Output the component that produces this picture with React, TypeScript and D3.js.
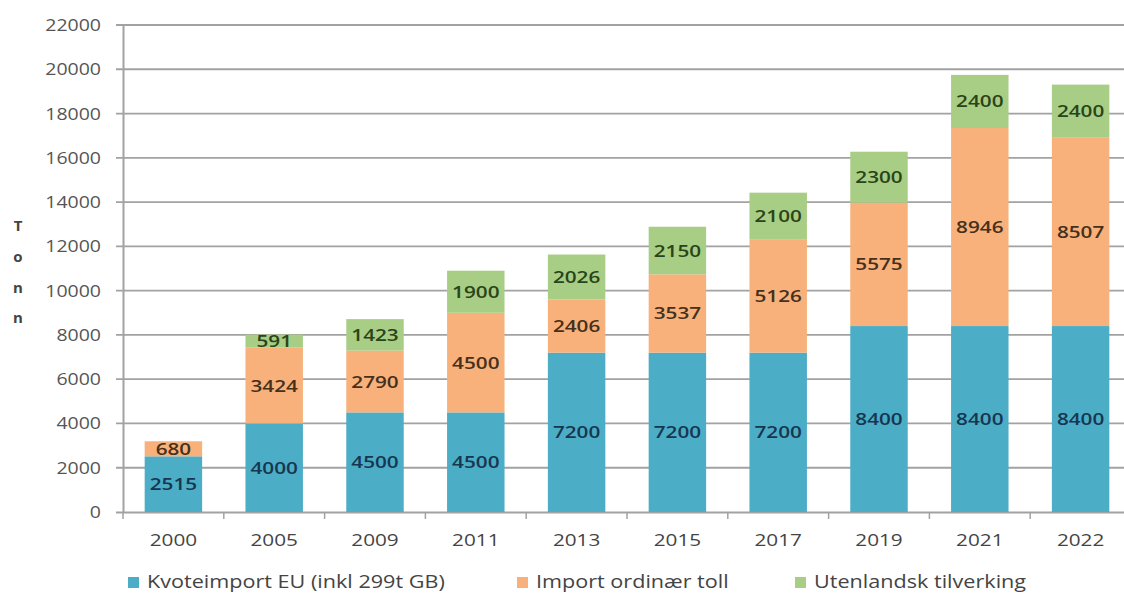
import React from 'react';
import * as d3 from 'd3';

const years = ['2000', '2005', '2009', '2011', '2013', '2015', '2017', '2019', '2021', '2022'];
const kvoteimport = [2515, 4000, 4500, 4500, 7200, 7200, 7200, 8400, 8400, 8400];
const importToll = [680, 3424, 2790, 4500, 2406, 3537, 5126, 5575, 8946, 8507];
const utenlandsk = [0, 591, 1423, 1900, 2026, 2150, 2100, 2300, 2400, 2400];
const yTicks = [0, 2000, 4000, 6000, 8000, 10000, 12000, 14000, 16000, 18000, 20000, 22000];

const seriesNames = ['Kvoteimport EU (inkl 299t GB)', 'Import ordinær toll', 'Utenlandsk tilverking'];
const seriesColors = ['#4badc6', '#f8b17b', '#a8cd84'];
const labelColors = ['#173650', '#45301c', '#2a4419'];
const axisLetters = ['T', 'o', 'n', 'n'];

const W = 1124;
const H = 595;
const FONT = '"Open Sans", "Liberation Sans", sans-serif';
const SX = 1.22; // reference text looks horizontally stretched

const App: React.FC = () => {
  const x = d3.scaleBand<string>().domain(years).range([123, 1131]).paddingInner(0.43).paddingOuter(0.215);
  const y = d3.scaleLinear().domain([0, 22000]).range([512, 25]);

  const rows = years.map((yr, i) => ({ year: yr, k: kvoteimport[i], t: importToll[i], u: utenlandsk[i] }));
  const stack = d3.stack<any>().keys(['k', 't', 'u'])(rows);

  const legendX = [128, 517, 795];

  return (
    <div style={{ position: 'fixed', left: 0, top: 0 }}>
      <svg width={W} height={H} style={{ display: 'block', background: '#fff', fontFamily: FONT }}>
        {/* gridlines + y ticks */}
        {yTicks.map(t => (
          <g key={t}>
            {t > 0 && <line x1={116} x2={W} y1={y(t)} y2={y(t)} stroke="#a2a2a2" strokeWidth={1.8} />}
            <text transform={`translate(101,${y(t) + 6}) scale(${SX},1)`} textAnchor="end" fontSize={16} fill="#555">
              {t}
            </text>
          </g>
        ))}
        {/* axes */}
        <line x1={123.5} x2={123.5} y1={25} y2={513} stroke="#a2a2a2" strokeWidth={2} />
        <line x1={116} x2={W} y1={512.5} y2={512.5} stroke="#a2a2a2" strokeWidth={2} />
        {years.map(yr => (
          <line key={'t' + yr} x1={(x(yr) as number) - x.step() * 0.215} x2={(x(yr) as number) - x.step() * 0.215} y1={512} y2={519} stroke="#a2a2a2" strokeWidth={1.5} />
        ))}
        {/* bars */}
        {stack.map((layer, si) => (
          <g key={si}>
            {layer.map((d, i) => {
              const v = d[1] - d[0];
              if (v <= 0) return null;
              const bx = x(years[i]) as number;
              const cy = (y(d[0]) + y(d[1])) / 2;
              return (
                <g key={i}>
                  <rect x={bx} width={x.bandwidth()} y={y(d[1])} height={y(d[0]) - y(d[1])} fill={seriesColors[si]} />
                  <text
                    transform={`translate(${bx + x.bandwidth() / 2},${cy + 6}) scale(${SX},1)`}
                    textAnchor="middle"
                    fontSize={17}
                    fontWeight={600}
                    fill={labelColors[si]}
                  >
                    {v}
                  </text>
                </g>
              );
            })}
          </g>
        ))}
        {/* x labels */}
        {years.map(yr => (
          <text key={'x' + yr} transform={`translate(${(x(yr) as number) + x.bandwidth() / 2},546) scale(${SX},1)`} textAnchor="middle" fontSize={17} fill="#444">
            {yr}
          </text>
        ))}
        {/* y axis title */}
        {axisLetters.map((c, i) => (
          <text key={'a' + i} x={18} y={[231, 262, 293, 323][i]} textAnchor="middle" fontSize={15} fontWeight="bold" fill="#444">
            {c}
          </text>
        ))}
        {/* legend */}
        {seriesNames.map((n, i) => (
          <g key={n}>
            <rect x={legendX[i]} y={577} width={11} height={11} fill={seriesColors[i]} />
            <text transform={`translate(${legendX[i] + 19},588) scale(1.2,1)`} fontSize={18} fill="#444">
              {n}
            </text>
          </g>
        ))}
      </svg>
    </div>
  );
};

export default App;
